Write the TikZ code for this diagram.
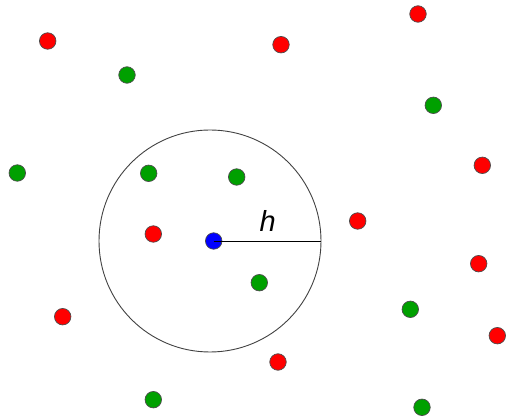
\documentclass[tikz,border=0pt]{standalone}
\usepackage{fontspec}
\setmainfont{Liberation Sans}
\definecolor{dotred}{RGB}{255,0,0}
\definecolor{dotgreen}{RGB}{0,160,0}
\definecolor{dotblue}{RGB}{0,0,255}
\begin{document}
\begin{tikzpicture}[x=1pt,y=-1pt,
  dot/.style={circle,draw=black!70,line width=0.7pt,inner sep=0pt,minimum size=16.5pt},
  rdot/.style={dot,fill=dotred},
  gdot/.style={dot,fill=dotgreen},
  bdot/.style={dot,fill=dotblue},
  ring/.style={circle,draw=black!75,line width=0.9pt,inner sep=0pt,minimum size=222pt}]
\useasboundingbox (0,0) rectangle (507,417);
\node[ring] (c) at (210,241) {};
% red
\node[rdot] (r1) at (47.7,41) {};
\node[rdot] (r2) at (281,44.7) {};
\node[rdot] (r3) at (418,14) {};
\node[rdot] (r4) at (482.3,165.3) {};
\node[rdot] (r5) at (357.7,221) {};
\node[rdot] (r6) at (153.3,234) {};
\node[rdot] (r7) at (478.7,263.7) {};
\node[rdot] (r8) at (62.7,316.7) {};
\node[rdot] (r9) at (497.3,335.7) {};
\node[rdot] (r10) at (278,362) {};
% green
\node[gdot] (g1) at (127,75) {};
\node[gdot] (g2) at (433.3,105.3) {};
\node[gdot] (g3) at (17.3,173) {};
\node[gdot] (g4) at (148.7,173.3) {};
\node[gdot] (g5) at (236.7,177) {};
\node[gdot] (g6) at (259.3,282.7) {};
\node[gdot] (g7) at (410.3,309.3) {};
\node[gdot] (g8) at (153.3,399.7) {};
\node[gdot] (g9) at (422,407.3) {};
% blue center
\node[bdot] (b) at (213.7,241) {};
\draw[line width=0.9pt] (b.center) -- (c.east);
\node[inner sep=0pt,font=\fontsize{29}{30}\selectfont\itshape] (h) at (267.7,221) {h};
\end{tikzpicture}
\end{document}
